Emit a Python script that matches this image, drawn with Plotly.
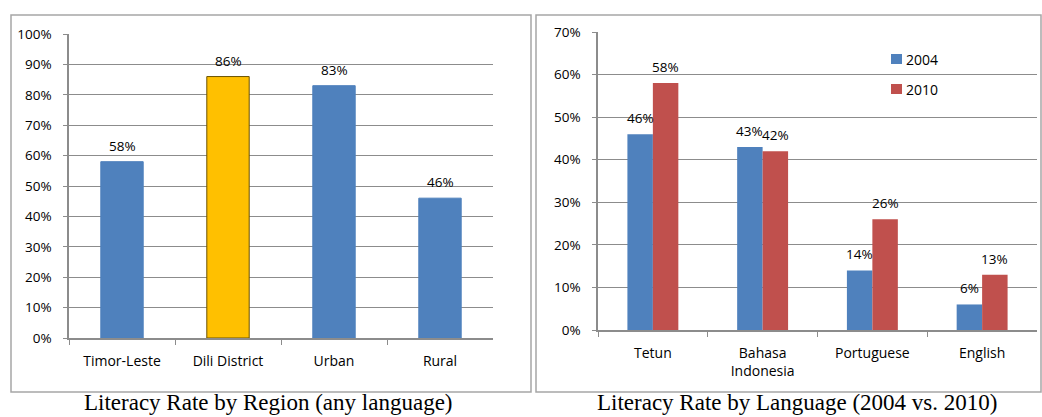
import plotly.graph_objects as go

# Literacy by region (any language)
regions = ["Timor-Leste", "Dili District", "Urban", "Rural"]
region_rate = [58, 86, 83, 46]

# Literacy by language, two survey years
languages = ["Tetun", "Bahasa<br>Indonesia", "Portuguese", "English"]
years = ["2004", "2010"]
rate_2004 = [46, 43, 14, 6]
rate_2010 = [58, 42, 26, 13]

W, H = 1042, 417
FONT = "Open Sans, Lato, sans-serif"
BLUE, RED, GOLD = "#4F81BD", "#C0504D", "#FFC000"
GRID = "#8C8C8C"
LABEL_FONT = dict(family=FONT, size=13.5, color="#000")
LABEL_LIFT = 16  # px between bar top and centre of its value label


def px_x(x):
    return x / W


def px_y(y):
    return 1 - y / H


fig = go.Figure()

region_colors = [GOLD if r == "Dili District" else BLUE for r in regions]
region_lines = ["#6B5200" if r == "Dili District" else BLUE for r in regions]
fig.add_trace(go.Bar(
    x=regions, y=[v / 100 for v in region_rate],
    marker=dict(color=region_colors, line=dict(color=region_lines, width=1)),
    xaxis="x", yaxis="y", showlegend=False,
))
for i, v in enumerate(region_rate):
    fig.add_annotation(text=f"{v}%", xref="x", yref="y", x=i, y=v / 100,
                       yshift=LABEL_LIFT, yanchor="middle", showarrow=False,
                       font=LABEL_FONT)

half = 0.232
year_colors = [BLUE, RED]
for k, (yr, vals) in enumerate(zip(years, [rate_2004, rate_2010])):
    fig.add_trace(go.Bar(
        x=languages, y=[v / 100 for v in vals], name=yr,
        width=half, offset=-half if k == 0 else 0,
        marker=dict(color=year_colors[k], line=dict(width=0)),
        xaxis="x2", yaxis="y2", showlegend=False,
    ))
    shift = -half / 2 if k == 0 else half / 2
    for i, v in enumerate(vals):
        fig.add_annotation(text=f"{v}%", xref="x2", yref="y2", x=i + shift,
                           y=v / 100, yshift=LABEL_LIFT, yanchor="middle",
                           showarrow=False, font=LABEL_FONT)

xaxis_common = dict(
    showline=True, linecolor=GRID, linewidth=1.5,
    ticks="outside", tickcolor=GRID, ticklen=5,
    tickfont=dict(family=FONT, size=14, color="#000"),
    ticklabelstandoff=9, tickson="boundaries",
    automargin=False, fixedrange=True,
)
yaxis_common = dict(
    showline=True, linecolor=GRID, linewidth=1.5,
    ticks="outside", tickcolor=GRID, ticklen=4,
    tickfont=dict(family=FONT, size=13.5, color="#000"),
    ticklabelstandoff=9, dtick=0.1, tickformat=".0%",
    showgrid=True, gridcolor=GRID, gridwidth=1,
    automargin=False, fixedrange=True,
)

fig.update_layout(
    width=W, height=H,
    margin=dict(l=0, r=0, t=0, b=0, autoexpand=False),
    paper_bgcolor="white", plot_bgcolor="white",
    font=dict(family=FONT, size=13, color="#000"),
    barmode="group", bargap=0.6, showlegend=False,
    xaxis=dict(domain=[px_x(69), px_x(493)], anchor="y", **xaxis_common),
    yaxis=dict(domain=[px_y(338), px_y(34)], anchor="x", range=[0, 1],
               **yaxis_common),
    xaxis2=dict(domain=[px_x(598), px_x(1037)], anchor="y2", **xaxis_common),
    yaxis2=dict(domain=[px_y(330), px_y(32)], anchor="x2", range=[0, 0.7],
                **yaxis_common),
)

# legend for the language panel
for k, yr in enumerate(years):
    yc = 59 + 30 * k
    fig.add_shape(type="rect", xref="paper", yref="paper",
                  x0=px_x(891), x1=px_x(902), y0=px_y(yc + 5), y1=px_y(yc - 5),
                  fillcolor=year_colors[k], line=dict(width=0))
    fig.add_annotation(text=yr, xref="paper", yref="paper",
                       x=px_x(904), y=px_y(yc), xanchor="left", yanchor="middle",
                       showarrow=False, font=dict(family=FONT, size=14, color="#000"))

# panel frames
for x0, x1 in [(11, 531), (536, 1041)]:
    fig.add_shape(type="rect", xref="paper", yref="paper",
                  x0=px_x(x0), x1=px_x(x1), y0=px_y(392), y1=px_y(15),
                  line=dict(color="#A6A6A6", width=1.5), layer="below")

# captions under the frames
captions = [("Literacy Rate by Region (any language)", 268),
            ("Literacy Rate by Language (2004 vs. 2010)", 797)]
for text, cx in captions:
    fig.add_annotation(text=text, xref="paper", yref="paper",
                       x=px_x(cx), y=px_y(416), xanchor="center", yanchor="bottom",
                       showarrow=False, borderpad=0,
                       font=dict(family="Liberation Serif, Times New Roman, serif",
                                 size=23, color="#000"))

fig.write_html("out.html")
